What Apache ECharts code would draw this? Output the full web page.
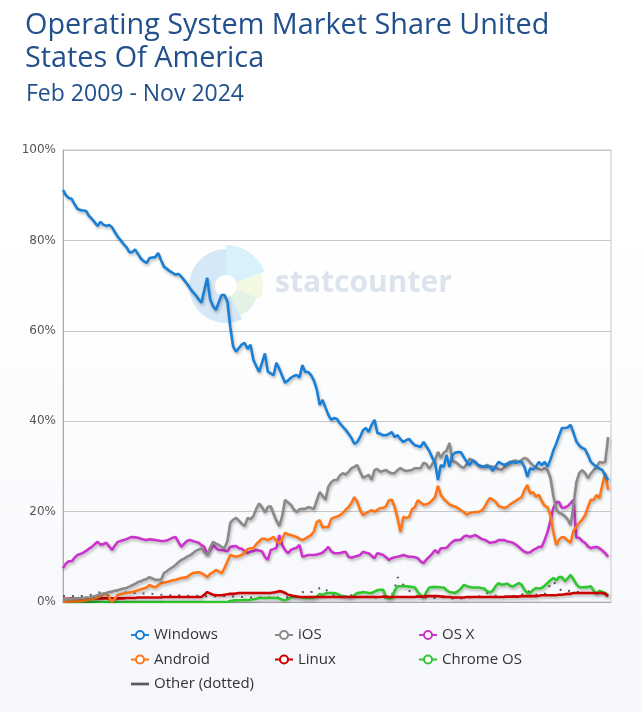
<!DOCTYPE html>
<html>
<head>
<meta charset="utf-8">
<script src="https://cdn.jsdelivr.net/npm/echarts@6/dist/echarts.min.js"></script>
<style>html,body{margin:0;padding:0;background:#fff}#c{width:642px;height:712px}</style>
</head>
<body>
<div id="c"></div>
<script>
// Months Feb 2009 .. Nov 2024 (190 months)
const monthNames = ['Jan','Feb','Mar','Apr','May','Jun','Jul','Aug','Sep','Oct','Nov','Dec'];
const categories = [];
for (let y = 2009, m = 1; !(y === 2024 && m === 11); ) {
  categories.push(monthNames[m] + ' ' + y);
  m++; if (m === 12) { m = 0; y++; }
}
categories.push('Nov 2024');

const yTicks = [0, 20, 40, 60, 80, 100];

const windows = [
91.2,90.0,89.4,89.2,88.0,87.0,86.7,86.6,86.5,85.4,
84.8,84.0,83.2,84.1,83.5,83.2,83.4,82.9,81.8,80.8,
80.0,79.2,78.5,77.4,77.4,78.0,77.0,76.0,75.4,75.0,
76.1,76.2,76.3,77.2,75.6,74.2,73.7,73.2,72.8,72.4,
72.6,72.0,71.2,70.4,69.4,68.6,67.9,67.0,66.2,69.0,
71.7,67.0,65.5,64.6,66.3,67.9,67.9,66.5,60.8,56.5,
55.4,56.2,57.0,57.3,56.0,56.9,53.6,52.2,50.9,52.9,
55.0,51.0,50.6,50.2,52.9,51.6,50.0,48.5,49.0,49.6,
50.0,50.2,49.7,52.4,50.9,50.9,50.2,49.0,47.0,43.6,
44.7,43.0,41.4,40.3,40.7,40.5,39.5,38.8,38.1,37.2,
36.3,35.0,35.4,36.5,38.0,38.5,37.6,39.2,40.3,37.4,
37.2,36.9,36.9,37.2,37.6,36.5,36.9,36.0,35.4,35.8,
36.1,35.3,34.7,34.5,34.3,35.4,34.4,33.4,32.0,30.8,
27.0,30.3,29.9,32.5,29.9,32.5,33.0,33.2,33.1,32.0,
31.0,30.3,31.4,30.8,30.3,30.1,29.9,30.0,29.9,29.0,
30.0,31.0,30.6,30.3,30.6,31.0,30.9,30.8,31.0,31.0,
29.9,27.7,29.6,29.3,30.0,31.0,30.3,31.0,29.9,31.5,
33.5,35.0,36.8,38.5,38.5,38.6,39.2,37.4,35.5,34.6,
34.1,33.8,32.5,31.0,30.4,29.9,29.5,29.2,28.0,27.0];

const ios = [
0.6,0.6,0.7,0.7,0.8,0.8,0.9,0.9,1.0,1.0,
1.1,1.3,1.5,1.7,1.9,2.0,2.2,2.3,2.5,2.6,
2.8,3.0,3.1,3.4,3.7,4.0,4.4,4.6,4.9,5.1,
5.5,5.2,4.9,4.9,4.9,6.4,6.8,7.3,7.7,8.2,
8.8,9.3,9.6,10.0,10.3,10.8,11.3,11.6,11.9,11.0,
10.4,12.0,13.3,12.9,12.6,12.2,11.9,13.5,17.5,18.2,
18.6,18.0,17.3,16.8,18.6,18.3,19.0,20.6,21.8,21.0,
19.8,21.0,21.2,19.5,18.0,16.8,19.0,22.6,22.0,21.5,
20.5,19.9,20.5,20.6,20.6,21.0,20.8,20.6,22.5,24.3,
23.5,22.6,25.5,26.5,27.0,27.0,28.0,28.5,28.2,28.8,
29.6,29.9,30.3,28.8,27.5,27.8,28.1,27.0,29.2,29.4,
28.8,29.0,29.2,28.7,28.5,28.5,29.2,29.6,29.2,29.0,
29.1,29.2,29.6,29.6,29.6,30.8,30.5,29.5,30.5,31.4,
33.2,31.9,33.0,33.5,35.2,31.2,31.0,30.5,29.9,29.7,
30.5,31.7,31.3,31.0,30.2,29.9,30.0,30.3,30.0,29.9,
29.7,29.4,29.2,29.8,30.2,30.6,31.2,31.3,31.0,31.4,
31.9,31.6,30.8,30.2,29.7,29.4,29.2,29.6,29.2,27.5,
23.5,20.6,19.7,19.5,19.0,18.3,17.0,21.5,26.5,28.5,
29.2,28.5,27.4,28.4,29.2,29.8,31.0,30.8,31.0,36.5];

const osx = [
7.5,8.5,9.0,9.0,9.8,10.4,10.6,10.9,11.3,11.8,
12.2,12.8,13.3,12.7,12.8,13.1,12.3,11.5,12.5,13.3,
13.5,13.7,13.9,14.2,14.4,14.3,14.2,14.0,13.8,13.7,
13.9,13.8,13.7,13.6,13.5,13.5,13.6,13.9,14.2,14.4,
13.3,12.2,12.9,13.5,13.7,13.5,13.3,13.1,12.6,12.2,
10.5,11.5,12.6,12.0,11.5,11.5,11.4,11.2,12.2,12.3,
12.4,11.9,11.8,11.2,10.9,11.1,11.3,11.5,11.4,11.2,
10.0,9.3,11.5,11.7,12.0,14.8,12.6,11.5,10.8,11.5,
11.8,12.0,12.6,10.0,10.2,10.4,10.4,10.4,10.5,10.7,
10.9,11.5,12.2,11.2,10.8,10.8,10.8,11.0,11.1,10.0,
9.8,10.0,10.2,10.4,11.1,10.9,10.8,10.2,9.7,10.8,
10.6,10.4,9.9,9.3,9.7,9.9,10.0,10.2,10.4,10.2,
10.0,10.0,9.9,9.7,9.0,8.6,9.4,10.0,10.7,11.5,
10.8,11.9,11.9,12.0,12.7,13.3,13.7,13.7,13.8,14.5,
14.7,14.4,14.6,14.8,14.4,14.0,13.8,13.5,13.1,13.2,
13.3,13.7,13.7,13.7,13.4,13.3,13.1,12.7,12.2,11.6,
11.1,10.9,11.0,11.5,11.8,12.2,12.2,13.7,15.5,18.0,
20.8,22.1,22.1,20.8,20.9,21.2,21.9,22.6,14.2,14.2,
13.5,13.1,12.3,11.9,12.1,12.2,11.9,11.4,10.8,10.0];

const android = [
0.0,0.0,0.1,0.1,0.1,0.2,0.2,0.3,0.4,0.5,
0.6,0.8,1.0,1.3,1.7,2.0,1.0,0.0,0.8,1.5,
1.7,1.9,2.0,2.1,2.2,2.4,2.6,2.8,3.0,3.2,
3.8,3.4,3.3,3.7,4.2,4.3,4.4,4.6,4.8,4.9,
5.1,5.3,5.4,5.5,6.0,6.4,6.5,6.6,6.4,6.0,
5.5,6.2,6.6,7.1,6.8,6.4,7.5,9.0,10.4,10.2,
10.0,10.2,10.4,11.0,11.7,11.9,11.9,12.8,13.4,14.0,
14.0,13.7,14.0,14.4,13.5,13.0,14.0,15.3,15.0,14.8,
14.6,14.4,14.0,13.7,14.0,14.4,14.8,15.6,17.7,18.1,
16.5,16.6,16.6,18.4,18.7,18.9,19.2,19.7,20.4,21.0,
21.9,23.2,22.2,20.4,19.2,19.6,20.0,20.3,20.0,20.4,
20.8,20.8,21.2,22.5,22.6,21.0,18.5,15.5,18.8,18.6,
18.8,20.5,21.0,22.5,22.0,21.5,21.6,21.9,22.5,23.2,
25.7,23.7,22.8,22.2,21.6,21.3,21.1,20.7,20.3,19.9,
19.3,19.7,19.8,19.9,19.9,20.2,20.8,22.0,23.0,22.6,
22.2,21.3,21.0,20.8,21.0,21.6,22.0,22.4,22.8,23.2,
24.8,25.9,24.0,24.3,23.3,23.7,22.3,21.3,21.0,19.2,
15.5,12.6,13.8,14.4,14.2,13.6,13.1,15.8,16.6,17.5,
18.2,19.2,21.0,22.6,22.6,23.7,23.0,25.9,28.5,24.8];

const linux = [
0.7,0.7,0.7,0.8,0.8,0.8,0.8,0.8,0.8,0.8,
0.8,0.8,0.8,0.8,0.8,0.8,0.8,0.8,0.8,0.8,
0.8,0.8,0.9,0.9,0.9,0.9,1.0,1.0,1.0,1.0,
1.0,1.0,1.0,1.0,1.0,1.1,1.1,1.1,1.1,1.1,
1.1,1.1,1.1,1.1,1.1,1.1,1.1,1.1,1.1,1.6,
2.2,1.9,1.6,1.5,1.5,1.5,1.6,1.7,1.8,1.8,
1.9,2.0,2.0,2.0,2.0,2.0,2.0,2.0,2.0,2.0,
2.0,2.0,2.0,2.1,2.2,2.4,2.3,2.0,1.6,1.5,
1.3,1.2,1.1,1.1,1.1,1.1,1.1,1.1,1.1,1.1,
1.1,1.1,1.1,1.1,1.1,1.1,1.1,1.1,1.1,1.1,
1.1,1.1,1.1,1.1,1.1,1.1,1.1,1.1,1.1,1.1,
1.1,1.2,1.2,1.1,1.1,1.1,1.1,1.1,1.1,1.1,
1.1,1.1,1.1,1.2,1.2,1.2,1.3,1.3,1.3,1.3,
1.3,1.2,1.2,1.1,1.1,1.0,1.0,1.0,1.0,1.0,
1.1,1.1,1.1,1.1,1.1,1.1,1.1,1.1,1.1,1.1,
1.1,1.1,1.1,1.1,1.2,1.2,1.2,1.2,1.2,1.3,
1.3,1.3,1.3,1.3,1.3,1.4,1.5,1.5,1.5,1.5,
1.5,1.5,1.6,1.6,1.7,1.8,1.8,2.0,2.0,2.0,
2.0,2.0,2.0,2.0,2.0,2.0,2.0,2.0,1.8,1.3];

const chromeos = [
0,0,0,0,0,0,0,0,0,0,
0,0,0,0,0,0,0,0,0,0,
0,0,0,0,0,0,0,0,0,0,
0,0,0,0,0,0,0,0,0,0,
0,0,0,0,0,0,0,0,0,0,
0,0,0,0,0,0,0,0,0.2,0.3,
0.4,0.4,0.4,0.5,0.4,0.5,0.6,0.7,0.9,0.9,
0.9,0.9,0.9,0.9,0.9,0.8,0.5,0.4,0.6,1.1,
1.1,1.1,1.1,1.0,0.9,0.9,0.9,0.9,1.2,1.8,
1.5,1.9,2.0,2.0,2.0,1.8,1.5,1.3,1.2,1.1,
1.1,1.5,2.0,2.0,2.2,2.1,2.0,2.0,2.3,2.6,
2.7,2.7,1.0,0.8,0.9,2.5,3.5,3.5,3.5,3.5,
3.4,3.3,3.2,2.2,1.5,1.0,2.2,3.2,3.3,3.3,
3.3,3.2,3.2,2.6,2.2,2.1,2.0,2.4,3.0,3.8,
3.5,3.3,3.2,3.2,3.2,3.1,3.0,2.4,2.1,2.5,
3.5,4.2,3.8,3.9,4.1,3.6,3.4,3.8,4.2,3.8,
2.7,2.0,2.0,2.7,3.1,3.0,3.1,3.6,4.2,4.8,
5.3,4.8,5.5,5.5,4.6,5.2,6.0,5.0,3.9,3.3,
3.2,3.3,3.3,3.5,2.5,1.8,2.5,2.2,2.0,1.5];

const other = [
1.3,1.3,1.2,1.3,1.3,1.4,1.3,1.3,1.4,1.5,
1.6,1.8,2.0,2.2,2.2,2.2,2.2,2.5,2.7,2.5,
2.3,2.2,2.1,2.0,2.0,2.0,2.0,1.9,1.9,1.8,
1.8,1.8,1.7,1.7,1.6,1.6,1.5,1.5,1.5,1.6,
1.5,1.5,1.4,1.4,1.4,1.4,1.4,1.3,1.3,1.3,
1.2,1.2,1.2,1.3,1.3,1.3,1.3,1.3,1.3,1.2,
1.2,1.2,1.1,1.1,1.1,1.0,1.0,1.0,1.0,1.0,
1.0,1.0,1.0,1.0,1.0,1.0,1.0,1.0,1.0,1.0,
1.0,1.5,2.2,2.2,2.0,2.0,2.2,2.2,2.5,3.1,
3.3,3.0,2.0,1.5,1.5,1.5,1.3,1.2,1.2,1.3,
1.5,1.8,2.2,2.0,1.5,1.2,1.1,1.0,1.0,1.0,
1.0,1.0,1.0,1.0,1.5,3.0,5.5,4.8,3.8,3.2,
2.5,2.0,1.5,1.2,1.0,1.0,1.0,0.9,0.9,0.9,
1.0,1.1,1.0,0.9,0.9,0.8,0.8,0.8,0.8,0.9,
1.1,1.0,1.2,1.2,1.2,1.5,1.8,2.0,1.6,1.5,
1.4,1.3,1.3,1.2,1.3,1.3,1.3,1.4,1.5,1.6,
2.0,2.7,2.0,1.5,1.6,1.8,1.6,1.8,2.4,4.2,
4.6,3.8,3.0,2.4,2.3,2.4,2.5,2.3,2.2,2.2,
2.1,2.0,2.0,2.0,2.0,1.9,1.9,1.9,1.9,1.9];

const seriesNames = ['Windows','iOS','OS X','Android','Linux','Chrome OS','Other (dotted)'];
const seriesColors = ['#1a7fd6','#8a8a8a','#cc33cc','#ff7618','#cc0000','#2ec82e','#5a5a5a'];
const seriesData = [windows, ios, osx, android, linux, chromeos, other];

const shadow = {shadowColor:'rgba(0,0,0,0.28)', shadowBlur:3, shadowOffsetX:1, shadowOffsetY:2};
const drawOrder = [6,5,4,2,3,1,0];
const series = drawOrder.map((k, n) => {
  const isOther = k === 6;
  return {
    name: seriesNames[k],
    type: 'line',
    data: seriesData[k],
    showSymbol: false,
    symbol: isOther ? 'none' : 'emptyCircle',
    symbolSize: 8,
    smooth: false,
    z: 2 + n,
    color: seriesColors[k],
    itemStyle: {color: seriesColors[k]},
    lineStyle: isOther
      ? {color: seriesColors[k], width: 2, type: [2, 7]}
      : Object.assign({color: seriesColors[k], width: 2.6}, shadow),
    emphasis: {disabled: true},
    animation: false
  };
});

function legendData(names) {
  return names.map(n => n === 'Other (dotted)'
    ? {name: n, icon: 'path://M0,0H20V3H0Z'}
    : {name: n});
}
const legendBase = {
  orient: 'vertical', top: 620, itemWidth: 18, itemHeight: 10, itemGap: 4.5,
  textStyle: {fontFamily: 'Open Sans', fontSize: 15, color: '#333', lineHeight: 20},
  selectedMode: false
};

const chart = echarts.init(document.getElementById('c'), null, {renderer: 'canvas'});
chart.setOption({
  animation: false,
  backgroundColor: {type: 'linear', x: 0, y: 0, x2: 0, y2: 1,
    colorStops: [{offset: 0, color: '#ffffff'}, {offset: 0.35, color: '#ffffff'}, {offset: 1, color: '#f5f7fb'}]},
  title: [
    {text: 'Operating System Market Share United\nStates Of America', left: 20, top: 4,
     textStyle: {fontFamily: 'Open Sans', fontWeight: 'normal', fontSize: 28.8, lineHeight: 33, color: '#21508c'}},
    {text: 'Feb 2009 - Nov 2024', left: 21, top: 75,
     textStyle: {fontFamily: 'Open Sans', fontWeight: 'normal', fontSize: 23, lineHeight: 28, color: '#21508c'}}
  ],
  graphic: [
    {type: 'sector', z: 0, shape: {cx: 226, cy: 286, r: 37, r0: 11, startAngle: 64*Math.PI/180, endAngle: 270*Math.PI/180, clockwise: true}, style: {fill: '#d6e7f6'}},
    {type: 'sector', z: 0, shape: {cx: 226, cy: 286, r: 41, r0: 11, startAngle: -90*Math.PI/180, endAngle: -20*Math.PI/180, clockwise: true}, style: {fill: '#d9f1fb'}},
    {type: 'sector', z: 0, shape: {cx: 226, cy: 286, r: 37, r0: 11, startAngle: -20*Math.PI/180, endAngle: 20*Math.PI/180, clockwise: true}, style: {fill: '#f3f8e1'}},
    {type: 'sector', z: 0, shape: {cx: 226, cy: 286, r: 33, r0: 11, startAngle: 20*Math.PI/180, endAngle: 64*Math.PI/180, clockwise: true}, style: {fill: '#e4f2e6'}},
    {type: 'text', z: 0, left: 275, top: 268, style: {text: 'statcounter', fontFamily: 'Open Sans', fontWeight: 'bold', fontSize: 30, fill: '#dde3ec'}}
  ],
  legend: [
    Object.assign({left: 125, data: legendData(['Windows','Android','Other (dotted)'])}, legendBase),
    Object.assign({left: 269, data: legendData(['iOS','Linux'])}, legendBase),
    Object.assign({left: 413, data: legendData(['OS X','Chrome OS'])}, legendBase)
  ],
  grid: {left: 63, right: 31, top: 150, bottom: 110, show: true, borderColor: '#c8c8c8', borderWidth: 1, backgroundColor: 'transparent'},
  xAxis: {
    type: 'category', data: categories, boundaryGap: false,
    axisLine: {show: true, lineStyle: {color: '#aaaaaa'}},
    axisTick: {show: false}, axisLabel: {show: false}, splitLine: {show: false}
  },
  yAxis: {
    type: 'value', min: yTicks[0], max: yTicks[yTicks.length - 1], interval: yTicks[1] - yTicks[0],
    axisLine: {show: true, lineStyle: {color: '#aaaaaa'}},
    axisTick: {show: false},
    axisLabel: {formatter: '{value}%', color: '#555', fontFamily: 'DejaVu Sans', fontSize: 12, margin: 7},
    splitLine: {show: true, lineStyle: {color: '#c8c8c8', width: 1}}
  },
  series: series
});
</script>
</body>
</html>
